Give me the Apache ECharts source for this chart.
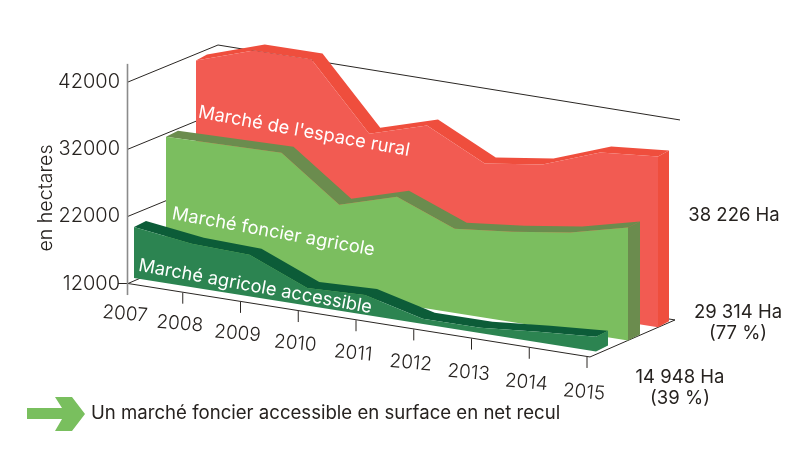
<!DOCTYPE html>
<html><head><meta charset="utf-8"><style>html,body{margin:0;background:#fff}#c{width:800px;height:457px}</style>
<script src="https://cdn.jsdelivr.net/npm/echarts@6/dist/echarts.min.js"></script></head>
<body><div id="c"></div>
<script>
const YEARS = [2007,2008,2009,2010,2011,2012,2013,2014,2015];
const Y_TICKS = [12000,22000,32000,42000];
const ESPACE_RURAL = [40790,43660,43690,34000,36580,32280,33500,36670,37450];
const FONCIER_AGRICOLE = [31400,31580,31760,25370,27940,24540,25460,26690,28800];
const AGRICOLE_ACCESSIBLE = [19610,18450,18180,14630,14950,12750,12780,13550,14180];
const NOTES = [['38 226 Ha',734,215],['29 314 Ha',738,312],['(77 %)',738,333],['14 948 Ha',680,377],['(39 %)',680,398]];
const FONT = 'Inter, "Noto Sans", sans-serif';
const INK = '#26221f';
const GL = 128, SHEAR = 0.159;
const chart = echarts.init(document.getElementById('c'));

function project(api, year, v, ox, oy){
  const c = api.coord([year, v]);
  return [c[0] + ox, c[1] + (c[0]-GL)*SHEAR + oy];
}
function wall(name, values, plane, colors, text){
  return {
    type:'custom', name, coordinateSystem:'cartesian2d', encode:{x:0,y:1}, silent:true,
    data: values.map((v,i)=>[YEARS[i],v]),
    renderItem(params, api){
      if (params.dataIndex !== 0) return null;
      const f = values.map((v,i)=>project(api,YEARS[i],v,plane.ox,plane.oy));
      const b = f.map(p=>[p[0]+plane.tx,p[1]+plane.ty]);
      const n = values.length-1;
      const fb0 = project(api,YEARS[0],Y_TICKS[0],plane.ox,plane.oy);
      const fbn = project(api,YEARS[n],Y_TICKS[0],plane.ox,plane.oy);
      const bbn = [fbn[0]+plane.tx,fbn[1]+plane.ty];
      const t = project(api,text.year,text.v,plane.ox,plane.oy);
      return {type:'group',children:[
        {type:'polygon',shape:{points:f.concat(b.slice().reverse())},style:{fill:colors.band}},
        {type:'polygon',shape:{points:[f[n],b[n],bbn,fbn]},style:{fill:colors.side}},
        {type:'polygon',shape:{points:f.concat([fbn,fb0])},style:{fill:colors.front}},
        {type:'text',x:t[0],y:t[1],rotation:-0.18,style:{text:name,fill:'#fff',font:'400 '+text.size+'px '+FONT,align:'center',verticalAlign:'middle'}}
      ]};
    }
  };
}
const frame = {
  type:'custom', name:'cadre', coordinateSystem:'cartesian2d', encode:{x:0,y:1}, silent:true, z:1,
  data:[[YEARS[0],Y_TICKS[0]]],
  renderItem(params, api){
    const line=(a,b,col,w)=>({type:'line',shape:{x1:a[0],y1:a[1],x2:b[0],y2:b[1]},style:{stroke:col||'#2a2623',lineWidth:w||1}});
    const kids=[];
    const first=YEARS[0], last=YEARS[YEARS.length-1];
    Y_TICKS.slice(1).forEach((v,k,arr)=>{
      const a=api.coord([first,v]), m=[a[0]+90,a[1]-37];
      kids.push(line(a,m));
      if(k===arr.length-1) kids.push(line(m,project(api,last,v,90,-35.5)));
    });
    const f0=project(api,first,Y_TICKS[0],0,0), fn=project(api,last,Y_TICKS[0],0,0);
    const be=[fn[0]+85,fn[1]-37], bs=[f0[0]+85,f0[1]-37];
    kids.push(line(f0,bs),line(bs,be),line(fn,be),line(f0,fn));
    kids.push(line([f0[0]-10,f0[1]],f0));
    YEARS.forEach((y,i)=>{
      const p=project(api,y,Y_TICKS[0],0,0);
      const tx=i?p[0]-3:p[0];
      if(i) kids.push(line([tx,p[1]],[tx,p[1]+11],'#2a2623',1));
      kids.push({type:'text',x:tx-3,y:p[1]+30.5+i*0.6,rotation:-0.09,style:{text:String(y),fill:INK,font:'300 19px '+FONT,align:'center',verticalAlign:'middle'}});
    });
    const top=api.coord([first,44700]), bot=api.coord([first,10280]);
    kids.push(line([top[0]-0.5,top[1]],[bot[0]-0.5,bot[1]],'#8b8b8b',1.6));
    return {type:'group',children:kids};
  }
};
chart.setOption({
  animation:false,
  backgroundColor:'#fff',
  grid:{left:GL,right:210,top:82,bottom:173.5},
  xAxis:{type:'value',min:2007,max:2015,interval:1,show:false},
  yAxis:{type:'value',min:12000,max:42000,interval:10000,
    axisLine:{show:false},axisTick:{show:false},splitLine:{show:false},
    axisLabel:{color:INK,fontFamily:FONT,fontSize:20,fontWeight:300,margin:8,padding:[2,0,0,0],formatter:v=>String(v)}},
  series:[
    frame,
    wall("Marché de l'espace rural",ESPACE_RURAL,{ox:68,oy:-29.6,tx:11,ty:-6},{front:'#F25B52',band:'#EF4E3D',side:'#EF4E3D'},{year:2008.87,v:32800,size:18.3}),
    wall('Marché foncier agricole',FONCIER_AGRICOLE,{ox:38,oy:-16.5,tx:12,ty:-6},{front:'#7BBE5F',band:'#6B8C4E',side:'#6B8C4E'},{year:2008.86,v:19760,size:18.3}),
    wall('Marché agricole accessible',AGRICOLE_ACCESSIBLE,{ox:6,oy:-5.5,tx:12,ty:-6},{front:'#2C8451',band:'#0C5C38',side:'#2C8451'},{year:2009.1,v:13600,size:18.3})
  ],
  graphic:[
    {type:'text',x:46,y:198,rotation:Math.PI/2,style:{text:'en hectares',fill:INK,font:'300 19.6px '+FONT,align:'center',verticalAlign:'middle'}},
    {type:'polygon',shape:{points:[[27,408],[62,408],[55,397],[72,397],[85,414],[72,431],[55,431],[62,419],[27,419]]},style:{fill:'#79BF5E'}},
    {type:'text',x:91,y:413,style:{text:'Un marché foncier accessible en surface en net recul',fill:INK,font:'400 18.6px '+FONT,verticalAlign:'middle'}},
    ...NOTES.map(n=>({type:'text',x:n[1],y:n[2],style:{text:n[0],fill:INK,font:'400 18.5px '+FONT,align:'center',verticalAlign:'middle'}}))
  ]
});
</script></body></html>
